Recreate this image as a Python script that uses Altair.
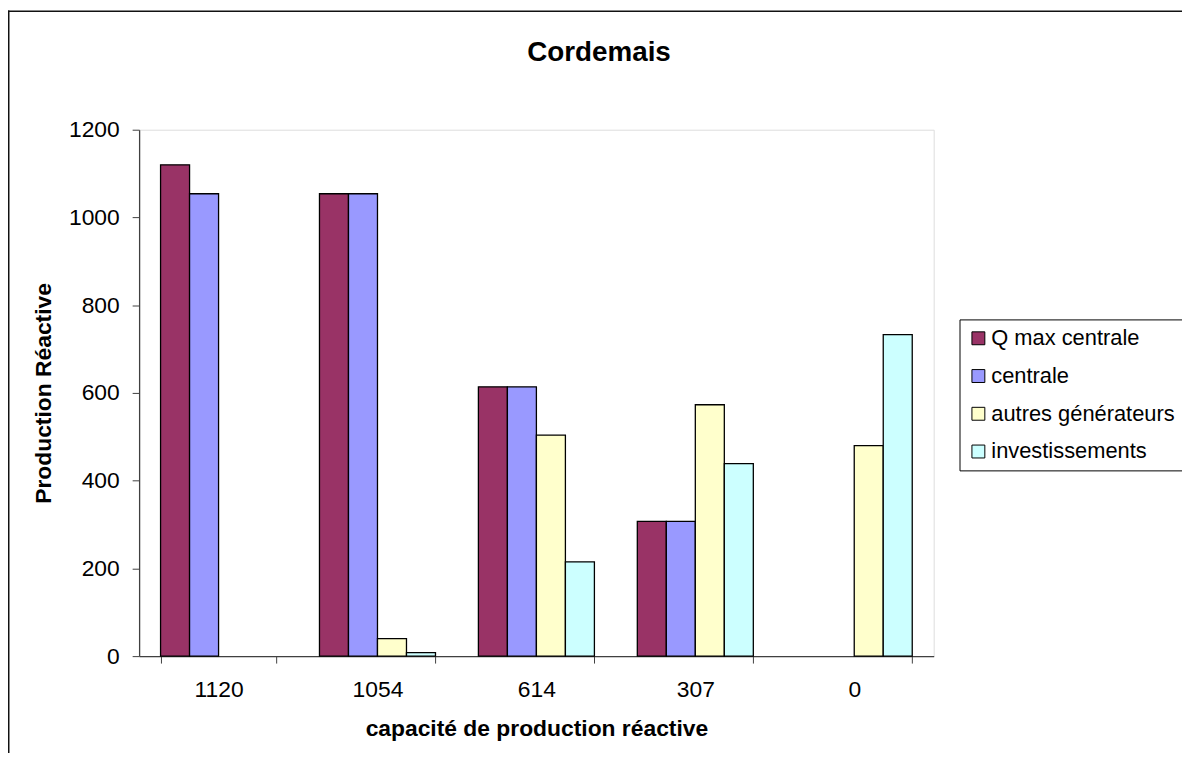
import altair as alt
import pandas as pd

# ---- data ----
categories = ["1120", "1054", "614", "307", "0"]
series_names = ["Q max centrale", "centrale", "autres générateurs", "investissements"]
q_max_centrale = [1120, 1054, 614, 307, 0]
centrale = [1054, 1054, 614, 307, 0]
autres_generateurs = [0, 40, 504, 573, 480]
investissements = [0, 8, 215, 439, 733]
series_colors = ["#993366", "#9999FF", "#FFFFCC", "#CCFFFF"]
y_ticks = [0, 200, 400, 600, 800, 1000, 1200]
chart_title = "Cordemais"

values = [q_max_centrale, centrale, autres_generateurs, investissements]
rows = []
for name, vals in zip(series_names, values):
    for cat, v in zip(categories, vals):
        rows.append({"capacite": cat, "serie": name, "valeur": v})
df = pd.DataFrame(rows)

FONT = "Liberation Sans"

bars = (
    alt.Chart(df)
    .transform_filter(alt.datum.valeur > 0)
    .mark_bar(stroke="black", strokeWidth=1.3)
    .encode(
        x=alt.X(
            "capacite:N",
            sort=categories,
            scale=alt.Scale(paddingInner=0.27, paddingOuter=0.135),
            axis=alt.Axis(
                title="capacité de production réactive",
                labelAngle=0,
                labelFontSize=23,
                labelFont=FONT,
                labelColor="black",
                labelPadding=16,
                tickBand="extent",
                tickSize=7,
                tickColor="#404040",
                domainColor="#404040",
                domainWidth=1.3,
                titleFont=FONT,
                titleFontSize=23,
                titleFontWeight="bold",
                titleColor="black",
                titleX=400,
                titleY=73,
                titleAlign="center",
                titleBaseline="middle",
            ),
        ),
        xOffset=alt.XOffset(
            "serie:N",
            sort=series_names,
            scale=alt.Scale(paddingInner=0, paddingOuter=0),
        ),
        y=alt.Y(
            "valeur:Q",
            scale=alt.Scale(domain=[0, 1200], nice=False),
            axis=alt.Axis(
                title="Production Réactive",
                values=y_ticks,
                format="d",
                grid=False,
                labelFontSize=23,
                labelFont=FONT,
                labelColor="black",
                labelPadding=13,
                tickSize=7,
                tickColor="#404040",
                domainColor="#404040",
                domainWidth=1.3,
                titleFont=FONT,
                titleFontSize=23,
                titleFontWeight="bold",
                titleColor="black",
                titleX=-96,
                titleY=265,
                titleAngle=-90,
                titleAlign="center",
                titleBaseline="middle",
            ),
        ),
        color=alt.Color(
            "serie:N",
            sort=series_names,
            scale=alt.Scale(domain=series_names, range=series_colors),
            legend=alt.Legend(
                title=None,
                orient="none",
                legendX=826,
                legendY=191,
                symbolType="square",
                symbolSize=169,
                symbolStrokeColor="black",
                symbolStrokeWidth=1,
                symbolOpacity=1,
                labelFont=FONT,
                labelFontSize=22,
                labelColor="black",
                labelOffset=2,
                labelLimit=0,
                rowPadding=16,
                padding=8,
                strokeColor="black",
                fillColor="white",
            ),
        ),
    )
)

frame_df = pd.DataFrame({"k": [0]})
top_line = alt.Chart(frame_df).mark_rule(color="#111111", strokeWidth=1.5).encode(
    x=alt.value(-132), x2=alt.value(2000), y=alt.value(-119.25)
)
left_line = alt.Chart(frame_df).mark_rule(color="#111111", strokeWidth=1.5).encode(
    x=alt.value(-131.25), y=alt.value(-120), y2=alt.value(2000)
)
title_df = pd.DataFrame({"t": [chart_title]})
title_text = alt.Chart(title_df).mark_text(
    font=FONT, fontSize=28, fontWeight="bold", color="black",
    align="center", baseline="alphabetic",
).encode(text="t:N", x=alt.value(463), y=alt.value(-69))

chart = (
    alt.layer(top_line, left_line, title_text, bars)
    .properties(
        width=800,
        height=530,
        autosize=alt.AutoSizeParams(type="none"),
        padding={"left": 132, "top": 120, "right": 250, "bottom": 95},
    )
    .configure_view(stroke="#999999", strokeWidth=1.2)
    .configure(background="white")
)

chart.save("out.html", embed_options={"renderer": "svg", "actions": False})
